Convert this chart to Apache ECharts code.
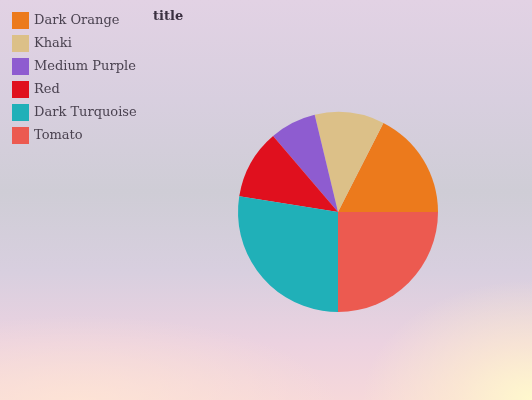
<!DOCTYPE html>
<html><head><meta charset="utf-8">
<script src="https://cdn.jsdelivr.net/npm/echarts@6/dist/echarts.min.js"></script>
<style>
html,body{margin:0;padding:0;}
#bg{position:absolute;left:0;top:0;width:532px;height:400px;
background:
 radial-gradient(ellipse 170px 120px at 532px 400px, rgba(255,248,205,1) 0%, rgba(255,240,205,0.6) 45%, rgba(255,235,210,0) 100%),
 radial-gradient(ellipse 260px 90px at 80px 405px, rgba(255,230,212,0.8) 0%, rgba(255,228,210,0) 100%),
 linear-gradient(to bottom, #e2d2e4 0%, #d8cfdf 25%, #cfcdd6 48%, #d8cfdf 68%, #ecd2e0 86%, #f6d8da 100%);}
#chart{position:absolute;left:0;top:0;width:532px;height:400px;}
</style></head>
<body><div id="bg"></div><div id="chart"></div>
<script>
var categories = ["Dark Orange","Khaki","Medium Purple","Red","Dark Turquoise","Tomato"];
var values = [14, 9, 6, 9, 22, 20];
var colors = ["#ec7a1c","#dcc088","#8e5cd0","#e0101e","#20b0b8","#ec5a50"];
var titleText = "title";

var chart = echarts.init(document.getElementById('chart'), null, {renderer:'canvas'});
chart.setOption({
  backgroundColor: 'transparent',
  animation: false,
  title: {text: titleText, left: 148, top: 5,
    textStyle: {fontFamily: 'DejaVu Serif', fontSize: 13, fontWeight: 'bold', color: '#3a3040'}},
  legend: {orient: 'vertical', left: 7, top: 7, itemWidth: 17, itemHeight: 17, itemGap: 6,
    icon: 'rect', data: categories,
    textStyle: {fontFamily: 'DejaVu Serif', fontSize: 13, color: '#4a4250'}},
  series: [{
    type: 'pie', center: [338, 212], radius: 100, startAngle: 0, clockwise: false,
    label: {show: false}, labelLine: {show: false},
    itemStyle: {borderWidth: 0},
    data: categories.map(function(c, i){ return {name: c, value: values[i], itemStyle: {color: colors[i]}}; })
  }]
});
</script></body></html>
